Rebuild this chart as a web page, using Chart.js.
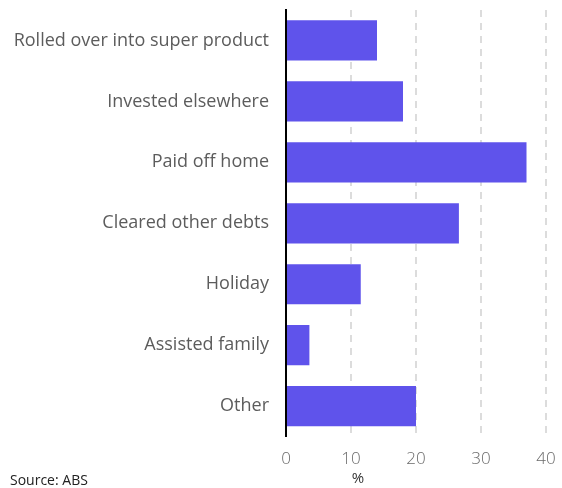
<!DOCTYPE html>
<html>
<head>
<meta charset="utf-8">
<script src="https://cdn.jsdelivr.net/npm/chart.js@4.4.1/dist/chart.umd.min.js"></script>
<style>
  html, body { margin: 0; padding: 0; background: #fff; }
  #wrap { width: 562px; height: 488px; position: relative; }
</style>
</head>
<body>
<div id="wrap"><canvas id="chart"></canvas></div>
<script>
// What people did with their lump sum payout, % of recipients
const categories = [
  'Rolled over into super product',
  'Invested elsewhere',
  'Paid off home',
  'Cleared other debts',
  'Holiday',
  'Assisted family',
  'Other'
];
const shares = [14, 18, 37, 26.6, 11.5, 3.6, 20];
const xTicks = [0, 10, 20, 30, 40];

const FONT = '"Open Sans", "Noto Sans", sans-serif';
const BAR = '#5f53eb';

// axis unit and source line, drawn straight onto the canvas
const footerText = {
  id: 'footerText',
  afterDraw(chart) {
    const ctx = chart.ctx;
    const area = chart.chartArea;
    ctx.save();
    ctx.textBaseline = 'middle';
    ctx.fillStyle = '#333';
    ctx.font = '15px ' + FONT;
    ctx.textAlign = 'center';
    ctx.fillText('%', area.left + 72, 479);
    ctx.textAlign = 'left';
    ctx.font = '14px ' + FONT;
    ctx.fillStyle = '#222';
    ctx.fillText('Source: ABS', 10, 481);
    ctx.restore();
  }
};

new Chart(document.getElementById('chart').getContext('2d'), {
  type: 'bar',
  data: {
    labels: categories,
    datasets: [{
      data: shares,
      backgroundColor: BAR,
      borderWidth: 0,
      barPercentage: 0.66,
      categoryPercentage: 1
    }]
  },
  options: {
    indexAxis: 'y',
    responsive: true,
    maintainAspectRatio: false,
    animation: false,
    layout: { padding: { top: 10, right: 16, bottom: 7, left: 0 } },
    plugins: {
      legend: { display: false },
      tooltip: { enabled: false }
    },
    scales: {
      x: {
        min: xTicks[0],
        max: xTicks[xTicks.length - 1],
        afterBuildTicks: (axis) => { axis.ticks = xTicks.map(v => ({ value: v })); },
        afterFit: (axis) => { axis.paddingLeft = 0; axis.paddingRight = 0; },
        grid: {
          color: (c) => c.tick && c.tick.value === 0 ? 'rgba(0,0,0,0)' : '#dcdcdc',
          lineWidth: 2,
          drawTicks: false
        },
        border: { display: false, dash: [7, 6] },
        ticks: {
          color: '#6a6a6a',
          font: { family: FONT, size: 17, weight: 300 },
          padding: 12
        }
      },
      y: {
        afterFit: (axis) => { axis.width = 286; axis.paddingTop = 0; axis.paddingBottom = 0; },
        grid: { display: false, drawTicks: false },
        border: { display: true, color: '#000', width: 2 },
        ticks: {
          color: '#5c5c5c',
          font: { family: FONT, size: 18, weight: 400 },
          padding: 17
        }
      }
    }
  },
  plugins: [footerText]
});
</script>
</body>
</html>
